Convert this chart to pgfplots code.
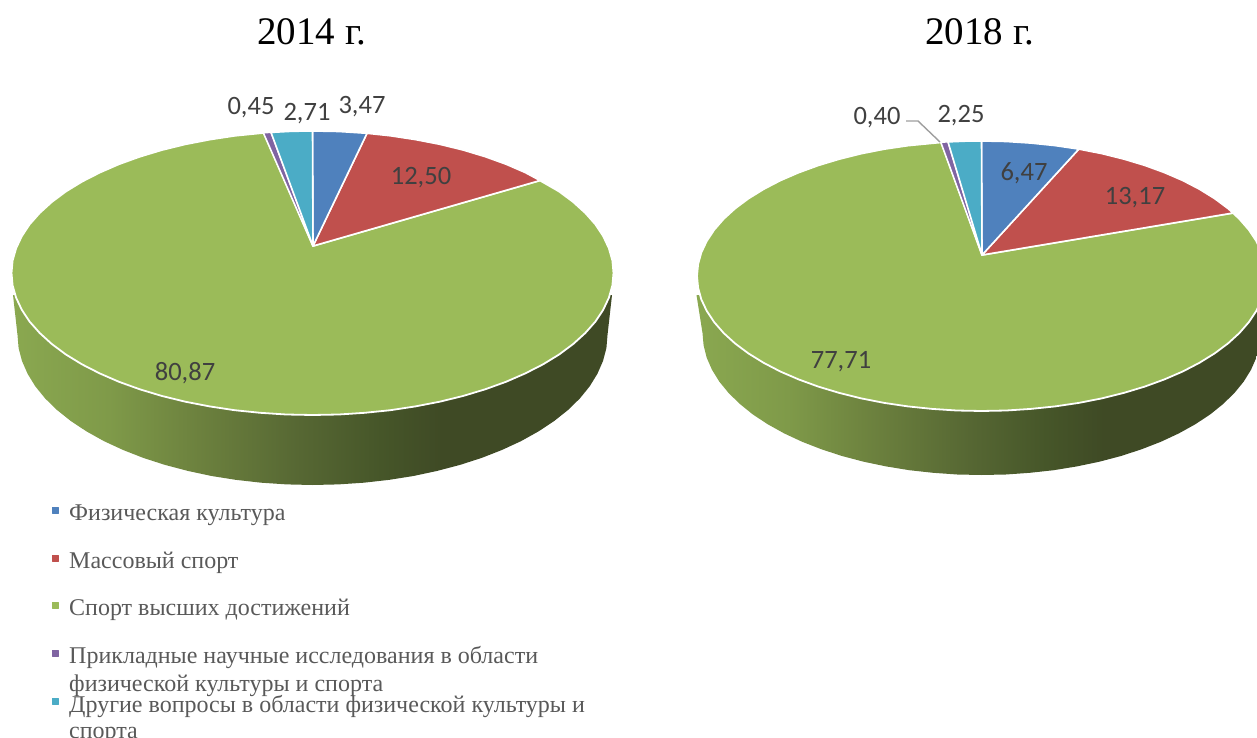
\documentclass[border=0pt]{standalone}
\usepackage{pgfplots}
\pgfplotsset{compat=1.18}
\usepackage{fontspec}
\setmainfont{Liberation Serif}
\newfontfamily\lblfont{Carlito}
\definecolor{cblue}{HTML}{4F81BD}
\definecolor{cred}{HTML}{C0504D}
\definecolor{cgreen}{HTML}{9BBB59}
\definecolor{cpurple}{HTML}{8064A2}
\definecolor{cteal}{HTML}{4BACC6}
\definecolor{wa}{HTML}{8AA850}
\definecolor{wb}{HTML}{7F9A49}
\definecolor{wc}{HTML}{6C813E}
\definecolor{wd}{HTML}{566733}
\definecolor{we}{HTML}{465629}
\definecolor{wf}{HTML}{3F4A25}
\definecolor{lblc}{HTML}{404040}
\definecolor{legc}{HTML}{595959}
\pgfdeclarehorizontalshading{wall}{100bp}{color(0bp)=(wa); color(25bp)=(wa); color(33bp)=(wb); color(40.5bp)=(wc); color(49bp)=(wd); color(55.7bp)=(we); color(60.8bp)=(wf); color(100bp)=(wf)}
\newcommand{\pielabel}[3]{\node[text=lblc,font=\lblfont\fontsize{26.5}{30}\selectfont,inner sep=0pt] at (axis cs:#1,#2) {#3};}
\newcommand{\legtext}[2]{\node[text=legc,anchor=base west,font=\fontsize{24}{28}\selectfont,inner sep=0pt] at (axis cs:69,#1) {#2};}
\begin{document}
\begin{tikzpicture}
\path[use as bounding box] (0,0) rectangle (1257pt,738pt);
\begin{axis}[at={(0,0)},anchor=south west,scale only axis,width=1257pt,height=738pt,
  xmin=0,xmax=1257,ymin=0,ymax=738,y dir=reverse,hide axis,
  every axis plot/.append style={line join=round}]
% ---- 2014: side wall
\addplot[draw=none,shading=wall] coordinates {(13,295)(17.5,335)(18.6,348.1)(22,361)(27.6,373.8)(35.3,386.3)(45.1,398.4)(57,410)(70.8,421)(86.5,431.4)(103.9,441.1)(122.9,449.9)(143.3,457.9)(165,464.9)(187.8,470.9)(211.6,476)(236.2,479.9)(261.3,482.7)(286.8,484.4)(312.5,485)(338.2,484.4)(363.7,482.7)(388.8,479.9)(413.4,476)(437.2,470.9)(460,464.9)(481.7,457.9)(502.1,449.9)(521.1,441.1)(538.5,431.4)(554.2,421)(568,410)(579.9,398.4)(589.7,386.3)(597.4,373.8)(603,361)(606.4,348.1)(607.5,335)(612,295)} --cycle;
% ---- 2014: top
\addplot[fill=cgreen,draw=white,line width=1.8pt] coordinates {(313,246)(540,180.5)(559.1,191.5)(573.2,202)(585.3,213)(595.4,224.4)(603.2,236.2)(608.9,248.3)(612.4,260.6)(613.5,273)(612.4,285.4)(608.9,297.7)(603.2,309.8)(595.4,321.6)(585.3,333)(573.2,344)(559.1,354.5)(543.1,364.3)(525.3,373.4)(506,381.8)(485.2,389.3)(463,396)(439.7,401.7)(415.4,406.4)(390.4,410.2)(364.8,412.8)(338.7,414.5)(312.5,415)(286.3,414.5)(260.2,412.8)(234.6,410.2)(209.6,406.4)(185.3,401.7)(162,396)(139.8,389.3)(119,381.8)(99.7,373.4)(81.9,364.3)(65.9,354.5)(51.8,344)(39.7,333)(29.6,321.6)(21.8,309.8)(16.1,297.7)(12.6,285.4)(11.5,273)(12.6,260.6)(16.1,248.3)(21.8,236.2)(29.6,224.4)(39.7,213)(51.8,202)(65.9,191.5)(81.9,181.7)(99.7,172.6)(119,164.2)(139.8,156.7)(162,150)(185.3,144.3)(209.6,139.6)(234.6,135.8)(263.5,132.9)} --cycle;
\addplot[fill=cred,draw=white,line width=1.6pt] coordinates {(313,246)(367,133.3)(390.4,135.8)(415.4,139.6)(439.7,144.3)(463,150)(485.2,156.7)(506,164.2)(525.3,172.6)(540,180.5)} --cycle;
\addplot[fill=cblue,draw=white,line width=1.6pt] coordinates {(313,246)(312.5,131)(338.7,131.5)(367,133.3)} --cycle;
\addplot[fill=cpurple,draw=white,line width=1.3pt] coordinates {(313,246)(263.5,132.9)(271,132.4)} --cycle;
\addplot[fill=cteal,draw=white,line width=1.6pt] coordinates {(313,246)(271,132.4)(292,131.3)(312.5,131)} --cycle;
% ---- 2018: side wall
\addplot[draw=none,shading=wall] coordinates {(696.5,295)(702.5,333)(703.6,345.4)(706.7,357.7)(712,369.8)(719.3,381.6)(728.6,393)(739.9,404)(752.9,414.5)(767.8,424.3)(784.2,433.4)(802.2,441.8)(821.5,449.3)(842,456)(863.6,461.7)(886.1,466.4)(909.3,470.2)(933.1,472.8)(957.2,474.5)(981.5,475)(1005.8,474.5)(1029.9,472.8)(1053.7,470.2)(1076.9,466.4)(1099.4,461.7)(1121,456)(1141.5,449.3)(1160.8,441.8)(1178.8,433.4)(1195.2,424.3)(1210.1,414.5)(1223.1,404)(1234.4,393)(1243.7,381.6)(1251,369.8)(1256.3,357.7)(1259.4,345.4)(1260.5,333)(1265.5,295)} --cycle;
% ---- 2018: top
\addplot[fill=cgreen,draw=white,line width=1.8pt] coordinates {(982,255)(1233,213)(1239.3,218.9)(1248.8,229.8)(1256.3,241.1)(1261.7,252.6)(1264.9,264.2)(1266,276)(1264.9,287.8)(1261.7,299.4)(1256.3,310.9)(1248.8,322.2)(1239.3,333.1)(1227.9,343.5)(1214.6,353.4)(1199.4,362.8)(1182.7,371.5)(1164.4,379.4)(1144.7,386.6)(1123.8,392.9)(1101.7,398.4)(1078.8,402.9)(1055.1,406.4)(1030.9,408.9)(1006.3,410.5)(981.5,411)(956.7,410.5)(932.1,408.9)(907.9,406.4)(884.2,402.9)(861.3,398.4)(839.2,392.9)(818.3,386.6)(798.6,379.4)(780.3,371.5)(763.6,362.8)(748.4,353.4)(735.1,343.5)(723.7,333.1)(714.2,322.2)(706.7,310.9)(701.3,299.4)(698.1,287.8)(697,276)(698.1,264.2)(701.3,252.6)(706.7,241.1)(714.2,229.8)(723.7,218.9)(735.1,208.5)(748.4,198.6)(763.6,189.2)(780.3,180.5)(798.6,172.6)(818.3,165.4)(839.2,159.1)(861.3,153.6)(884.2,149.1)(907.9,145.6)(941,142.4)} --cycle;
\addplot[fill=cred,draw=white,line width=1.6pt] coordinates {(982,255)(1078.8,149.1)(1101.7,153.6)(1123.8,159.1)(1144.7,165.4)(1164.4,172.6)(1182.7,180.5)(1199.4,189.2)(1214.6,198.6)(1227.9,208.5)(1233,213)} --cycle;
\addplot[fill=cblue,draw=white,line width=1.6pt] coordinates {(982,255)(981.5,141)(1006.3,141.5)(1030.9,143.1)(1055.1,145.6)(1078.8,149.1)} --cycle;
\addplot[fill=cpurple,draw=white,line width=1.3pt] coordinates {(982,255)(941,142.4)(948,141.9)} --cycle;
\addplot[fill=cteal,draw=white,line width=1.6pt] coordinates {(982,255)(948,141.9)(965,141.2)(981.5,141)} --cycle;
\addplot[draw=black!38,line width=1.4pt] coordinates {(906,121)(918,121)(940,142)};
% ---- legend markers
\addplot[only marks,mark=square*,mark size=3pt,mark options={fill=cblue,draw=cblue}] coordinates {(55,510)};
\addplot[only marks,mark=square*,mark size=3pt,mark options={fill=cred,draw=cred}] coordinates {(55,558)};
\addplot[only marks,mark=square*,mark size=3pt,mark options={fill=cgreen,draw=cgreen}] coordinates {(55,605)};
\addplot[only marks,mark=square*,mark size=3pt,mark options={fill=cpurple,draw=cpurple}] coordinates {(55,653)};
\addplot[only marks,mark=square*,mark size=3pt,mark options={fill=cteal,draw=cteal}] coordinates {(55,701)};
% ---- labels
\pielabel{251}{107.5}{0,45}
\pielabel{307}{113.5}{2,71}
\pielabel{362}{106.5}{3,47}
\pielabel{421}{178}{12,50}
\pielabel{185}{373.5}{80,87}
\pielabel{877}{117.5}{0,40}
\pielabel{961}{115.5}{2,25}
\pielabel{1024}{173.5}{6,47}
\pielabel{1135}{197.5}{13,17}
\pielabel{841}{361.5}{77,71}
\node[font=\fontsize{39}{42}\selectfont,inner sep=0pt] at (axis cs:312,32) {2014 г.};
\node[font=\fontsize{39}{42}\selectfont,inner sep=0pt] at (axis cs:980,32) {2018 г.};
\legtext{520}{Физическая культура}
\legtext{568}{Массовый спорт}
\legtext{615}{Спорт высших достижений}
\legtext{663}{Прикладные научные исследования в области}
\legtext{691}{физической культуры и спорта}
\legtext{712}{Другие вопросы в области физической культуры и}
\legtext{738}{спорта}
\end{axis}
\end{tikzpicture}
\end{document}
